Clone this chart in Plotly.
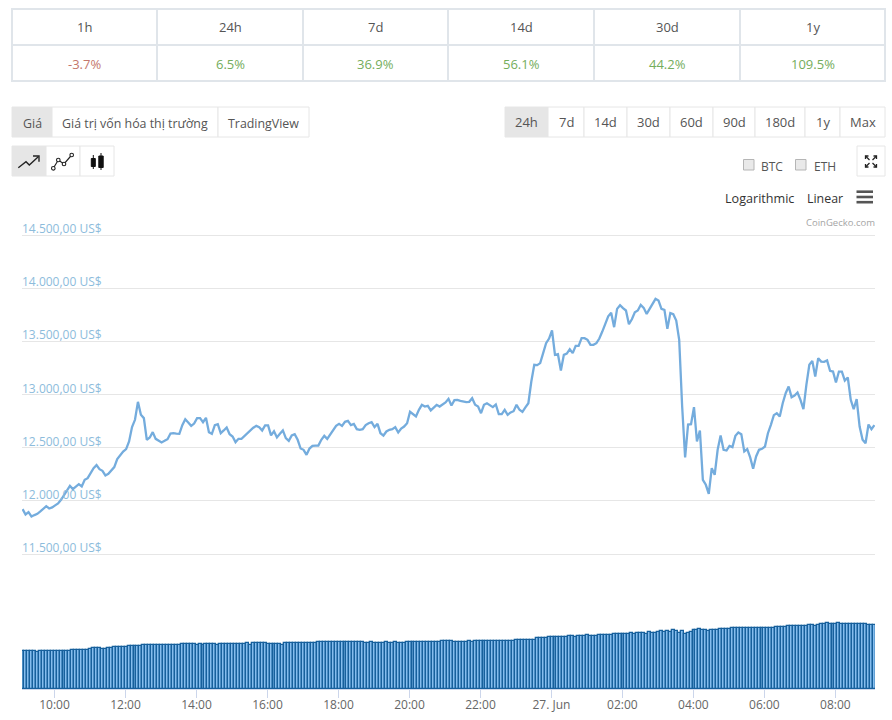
import pandas as pd
import plotly.graph_objects as go

W, H = 892, 720
FONT = "Open Sans"

# --- chart data ---
prices = [
    11922, 11872, 11894, 11853, 11866, 11878, 11900, 11928, 11950, 11928, 11938, 11957,
    11975, 12010, 12054, 12098, 12141, 12110, 12132, 12157, 12135, 12198, 12213, 12260,
    12307, 12336, 12298, 12282, 12239, 12254, 12282, 12317, 12392, 12433, 12464, 12486,
    12558, 12693, 12762, 12931, 12809, 12778, 12574, 12596, 12646, 12583, 12568, 12549,
    12564, 12580, 12633, 12637, 12633, 12630, 12712, 12768, 12737, 12705, 12727, 12778,
    12778, 12740, 12781, 12646, 12630, 12712, 12721, 12637, 12662, 12690, 12627, 12605,
    12552, 12583, 12583, 12611, 12640, 12662, 12687, 12705, 12693, 12662, 12709, 12709,
    12615, 12655, 12596, 12630, 12662, 12590, 12564, 12615, 12627, 12574, 12492, 12480,
    12433, 12492, 12517, 12520, 12520, 12574, 12611, 12583, 12627, 12665, 12705, 12724,
    12705, 12743, 12752, 12712, 12724, 12674, 12668, 12674, 12712, 12730, 12740, 12693,
    12724, 12636, 12614, 12652, 12668, 12674, 12693, 12643, 12680, 12699, 12730, 12837,
    12818, 12793, 12856, 12903, 12887, 12893, 12850, 12875, 12903, 12887, 12903, 12925,
    12959, 12896, 12947, 12950, 12940, 12934, 12928, 12931, 12965, 12903, 12887, 12824,
    12903, 12918, 12896, 12881, 12906, 12815, 12815, 12856, 12809, 12831, 12843, 12903,
    12856, 12837, 12878, 12918, 13122, 13279, 13276, 13295, 13389, 13483, 13526, 13602,
    13373, 13379, 13226, 13373, 13385, 13426, 13389, 13457, 13457, 13530, 13530, 13514,
    13467, 13467, 13483, 13526, 13592, 13671, 13736, 13768, 13633, 13805, 13840, 13812,
    13790, 13661, 13708, 13774, 13790, 13843, 13815, 13758, 13802, 13852, 13899, 13884,
    13805, 13796, 13617, 13765, 13755, 13696, 13514, 12887, 12408, 12718, 12721, 12881,
    12558, 12661, 12198, 12151, 12066, 12307, 12245, 12480, 12614, 12480, 12473, 12517,
    12505, 12611, 12643, 12627, 12464, 12486, 12408, 12301, 12417, 12480, 12489, 12511,
    12636, 12715, 12806, 12824, 12793, 12918, 13012, 13075, 12975, 12991, 13019, 12950,
    12862, 13091, 13279, 13316, 13169, 13342, 13310, 13307, 13320, 13222, 13216, 13113,
    13216, 13216, 13131, 13160, 12950, 12862, 12956, 12699, 12574, 12542, 12718, 12674,
    12712,
]

volumes = [
    19.3, 19.3, 19.3, 19.3, 19.3, 19.2, 19.3, 19.5, 19.6, 19.6, 19.6, 19.6,
    19.6, 19.6, 19.6, 19.6, 19.7, 19.8, 20.0, 20.0, 20.0, 20.2, 20.2, 20.6,
    20.9, 21.0, 21.0, 20.7, 20.7, 20.9, 21.2, 21.3, 21.3, 21.3, 21.3, 21.3,
    21.8, 22.0, 22.0, 22.0, 22.2, 22.3, 22.3, 22.3, 22.8, 22.8, 22.8, 22.8,
    22.8, 22.8, 22.8, 22.8, 22.7, 22.8, 23.3, 23.3, 23.3, 23.3, 23.0, 22.8,
    23.0, 22.8, 23.0, 23.3, 23.3, 23.3, 22.8, 23.2, 23.2, 23.2, 23.2, 23.2,
    23.2, 23.2, 23.2, 23.2, 23.8, 22.8, 23.8, 23.4, 23.5, 23.5, 23.8, 23.3,
    23.3, 23.3, 23.3, 23.3, 22.8, 23.5, 23.6, 23.8, 23.8, 23.8, 23.8, 23.8,
    23.7, 23.8, 23.8, 23.8, 24.2, 24.2, 24.2, 24.2, 24.2, 24.2, 24.2, 24.3,
    24.3, 24.3, 24.3, 24.3, 24.3, 24.0, 24.2, 24.0, 23.8, 23.8, 24.0, 23.8,
    23.8, 23.7, 23.7, 24.0, 23.7, 23.8, 24.0, 23.8, 23.6, 23.4, 24.3, 24.3,
    24.3, 24.3, 24.3, 24.3, 24.2, 24.2, 24.0, 24.0, 24.2, 24.0, 24.7, 24.7,
    24.7, 24.7, 24.3, 24.3, 24.3, 24.3, 24.3, 24.6, 24.3, 24.7, 24.5, 24.7,
    24.7, 24.5, 24.7, 24.7, 24.7, 24.7, 24.4, 24.7, 24.7, 24.7, 24.5, 25.0,
    25.0, 25.2, 24.9, 25.2, 25.2, 25.3, 25.9, 26.0, 26.2, 26.3, 26.4, 26.7,
    26.8, 26.6, 26.8, 26.6, 26.7, 27.2, 27.2, 26.7, 27.3, 27.3, 27.2, 27.6,
    27.2, 27.3, 27.2, 27.5, 27.6, 27.5, 27.6, 27.8, 28.0, 28.2, 28.2, 28.3,
    28.2, 28.4, 28.5, 28.3, 28.5, 28.8, 28.7, 28.2, 29.0, 28.6, 28.9, 29.3,
    29.7, 29.0, 29.6, 29.4, 30.0, 29.6, 28.9, 29.6, 28.2, 28.8, 29.4, 30.4,
    30.0, 30.5, 30.0, 30.2, 29.9, 30.0, 30.3, 30.4, 30.6, 30.9, 31.0, 31.0,
    31.2, 31.2, 31.2, 31.2, 31.4, 31.2, 31.2, 31.2, 31.2, 31.2, 31.4, 31.2,
    31.2, 31.3, 31.5, 31.7, 31.7, 31.9, 32.0, 32.2, 32.2, 32.3, 32.4, 32.1,
    32.4, 32.5, 32.7, 32.6, 32.4, 32.8, 33.2, 33.4, 33.7, 33.4, 33.2, 33.5,
    33.8, 33.5, 33.5, 33.4, 33.4, 33.3, 33.4, 33.4, 33.1, 33.2, 33.0, 32.9,
    33.0,
]

times = pd.date_range("2019-06-26 09:06", periods=len(prices), freq="5min")

price_ticks = [11500, 12000, 12500, 13000, 13500, 14000, 14500]
price_labels = ["11.500,00 US$", "12.000,00 US$", "12.500,00 US$", "13.000,00 US$",
                "13.500,00 US$", "14.000,00 US$", "14.500,00 US$"]

time_ticks = ["2019-06-26 10:00", "2019-06-26 12:00", "2019-06-26 14:00", "2019-06-26 16:00",
              "2019-06-26 18:00", "2019-06-26 20:00", "2019-06-26 22:00", "2019-06-27 00:00",
              "2019-06-27 02:00", "2019-06-27 04:00", "2019-06-27 06:00", "2019-06-27 08:00"]
time_labels = ["10:00", "12:00", "14:00", "16:00", "18:00", "20:00", "22:00", "27. Jun",
               "02:00", "04:00", "06:00", "08:00"]

# --- page furniture above the chart ---
periods = ["1h", "24h", "7d", "14d", "30d", "1y"]
changes = ["-3.7%", "6.5%", "36.9%", "56.1%", "44.2%", "109.5%"]
table_edges = [12, 157, 303, 448, 594, 740, 885]
tabs = ["Giá", "Giá trị vốn hóa thị trường", "TradingView"]
tab_edges = [12, 52, 218, 309]
ranges = ["24h", "7d", "14d", "30d", "60d", "90d", "180d", "1y", "Max"]
range_edges = [505, 548, 584, 627, 670, 713, 755, 805, 840, 885]
type_edges = [12, 46, 80, 114]

shapes = []
annotations = []


def fx(x):
    return x / W


def fy(y):
    return 1 - y / H


def label(x, y, text, size=13, color="#555555", anchor="center"):
    annotations.append(dict(
        x=fx(x), y=fy(y), xref="paper", yref="paper", text=text, showarrow=False,
        xanchor=anchor, yanchor="middle", font=dict(family=FONT, size=size, color=color),
    ))


def box(x0, y0, x1, y1, line="#e6e6e6", fill=None, width=1):
    shapes.append(dict(
        type="rect", xref="paper", yref="paper", x0=fx(x0), x1=fx(x1), y0=fy(y0), y1=fy(y1),
        line=dict(color=line, width=width), fillcolor=fill, layer="below",
    ))


def polyline(points, color="#222222", width=1.4, fill=None):
    path = "M " + " L ".join(f"{fx(x):.5f},{fy(y):.5f}" for x, y in points)
    shapes.append(dict(
        type="path", xref="paper", yref="paper", path=path,
        line=dict(color=color, width=width), fillcolor=fill,
    ))


def dot(x, y, r=1.8):
    shapes.append(dict(
        type="circle", xref="paper", yref="paper", x0=fx(x - r), x1=fx(x + r),
        y0=fy(y - r), y1=fy(y + r), line=dict(color="#222222", width=1.1), fillcolor="white",
    ))


# stats table
for i in range(6):
    x0, x1 = table_edges[i], table_edges[i + 1]
    box(x0, 9, x1, 45, line="#e0e5ea", width=2)
    box(x0, 45, x1, 81, line="#e0e5ea", width=2)
    label((x0 + x1) / 2, 27, periods[i], size=13, color="#555555")
    col = "#c4776c" if changes[i].startswith("-") else "#74ad5c"
    label((x0 + x1) / 2, 64, changes[i], size=13, color=col)

# button groups
for i, name in enumerate(tabs):
    active = i == 0
    box(tab_edges[i], 107, tab_edges[i + 1], 137, fill="#e6e6e6" if active else "white")
    label((tab_edges[i] + tab_edges[i + 1]) / 2, 123.5, name, size=12.4, color="#555555")

for i, name in enumerate(ranges):
    active = i == 0
    box(range_edges[i], 107, range_edges[i + 1], 137, fill="#e6e6e6" if active else "white")
    label((range_edges[i] + range_edges[i + 1]) / 2, 122.5, name, size=13, color="#555555")

for i in range(3):
    box(type_edges[i], 146, type_edges[i + 1], 176, fill="#e6e6e6" if i == 0 else "white")

# line icon
polyline([(18.3, 167.7), (26, 161.7), (29.3, 165), (38.3, 156.7)])
polyline([(33, 156), (39, 156), (39, 161.7)])
# line with markers icon
polyline([(53.3, 168.3), (58.3, 160), (64, 164), (71.7, 155)], width=1.2)
for px, py in [(53.3, 168.3), (58.3, 160), (64, 164), (71.7, 155)]:
    dot(px, py)
# candlestick icon
polyline([(93.3, 155), (93.3, 169)], color="#111111", width=1)
polyline([(101, 153), (101, 170)], color="#111111", width=1)
box(91.3, 158.5, 95.3, 166.5, line="#111111", fill="#111111")
box(98.8, 156, 103.2, 167.5, line="#111111", fill="#111111")

# compare checkboxes
box(743.5, 159.5, 754, 170, line="#b5b5b5", fill="#e9e9e9")
label(772, 166, "BTC", size=12, color="#555555")
box(795.5, 159.5, 806, 170, line="#b5b5b5", fill="#e9e9e9")
label(824.5, 166, "ETH", size=12, color="#555555")

# fullscreen button
box(857, 146, 885, 176)
for sx, sy in [(-1, -1), (1, -1), (-1, 1), (1, 1)]:
    cx, cy = 871, 161.5
    polyline([(cx + sx * 1.5, cy + sy * 1.5), (cx + sx * 5.5, cy + sy * 5.5)], width=1.3)
    polyline([(cx + sx * 5.5, cy + sy * 2.5), (cx + sx * 5.5, cy + sy * 5.5),
              (cx + sx * 2.5, cy + sy * 5.5)], width=1.3)

# scale switch and export menu
label(759, 198, "Logarithmic", size=12.6, color="#333333")
label(825, 198, "Linear", size=12.4, color="#333333")
for y in [191.7, 197, 202.2]:
    polyline([(856.5, y), (873, y)], color="#555555", width=2.6)
label(877, 222.5, "CoinGecko.com", size=9.5, color="#a5a5a5", anchor="right")

# y labels sit above their grid lines, at the left end of the plot
for value, text in zip(price_ticks, price_labels):
    annotations.append(dict(
        x=fx(20), y=value, xref="paper", yref="y", text=text, showarrow=False,
        xanchor="left", yanchor="bottom", yshift=-4,
        font=dict(family=FONT, size=12, color="#8dbcdc"),
    ))

fig = go.Figure()

fig.add_trace(go.Bar(
    x=times, y=volumes, xaxis="x", yaxis="y2",
    width=5 * 60 * 1000,
    marker=dict(color="#85bdee", line=dict(color="#17609c", width=1.3)),
    hovertemplate="%{y:.1f}<extra>Volume</extra>",
))

fig.add_trace(go.Scatter(
    x=times, y=prices, mode="lines", xaxis="x", yaxis="y",
    line=dict(color="#74acdd", width=2.3),
    hovertemplate="%{y:,.0f} US$<extra>Price</extra>",
))

fig.update_layout(
    width=W,
    height=H,
    showlegend=False,
    paper_bgcolor="white",
    plot_bgcolor="white",
    margin=dict(l=0, r=0, t=0, b=0, pad=0),
    font=dict(family=FONT),
    shapes=shapes,
    annotations=annotations,
    bargap=0,
    xaxis=dict(
        domain=[22 / W, 875 / W],
        anchor="y2",
        range=["2019-06-26 09:05", "2019-06-27 09:07"],
        tickmode="array",
        tickvals=time_ticks,
        ticktext=time_labels,
        ticks="outside",
        ticklen=8,
        tickcolor="#ccd6eb",
        tickfont=dict(family=FONT, size=12, color="#666666"),
        ticklabelstandoff=-3,
        showgrid=False,
        showline=True,
        linecolor="#ccd6eb",
        linewidth=1,
        zeroline=False,
    ),
    yaxis=dict(
        domain=[1 - 557.5 / H, 1 - 232 / H],
        range=[11467.1, 14528.2],
        tickmode="array",
        tickvals=price_ticks,
        showticklabels=False,
        showgrid=True,
        gridcolor="#e6e6e6",
        gridwidth=1,
        zeroline=False,
        showline=False,
    ),
    yaxis2=dict(
        domain=[1 - 689 / H, 1 - 609 / H],
        range=[0, 41],
        showticklabels=False,
        showgrid=False,
        zeroline=False,
        showline=False,
    ),
)

fig.write_html("out.html", config=dict(displayModeBar=False),
               post_script="document.body.style.margin='0';")
